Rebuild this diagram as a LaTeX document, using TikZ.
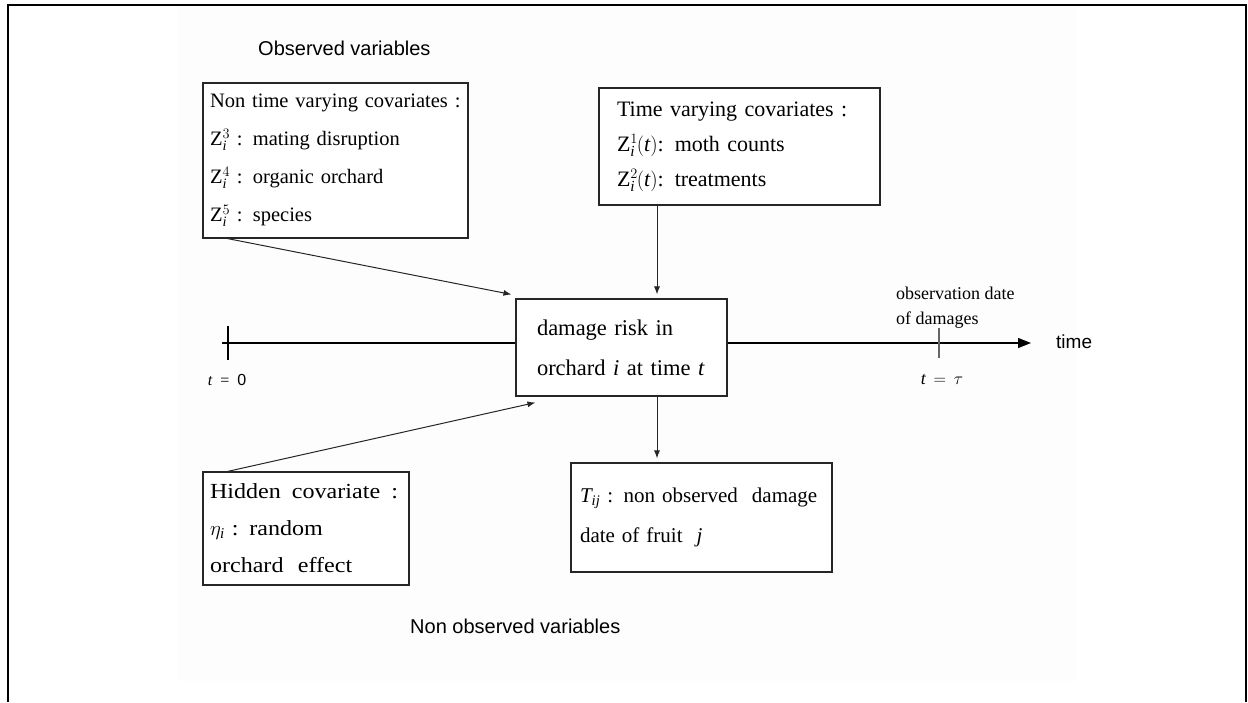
\documentclass[tikz,border=0pt]{standalone}
\usepackage{fontspec}
\setmainfont{Liberation Serif}
\setsansfont{Liberation Sans}
\newfontfamily\wideserif{Liberation Serif}[FakeStretch=1.12]
\usetikzlibrary{arrows.meta}
\newcommand{\zvar}[1]{$\mathrm{Z}^{#1}_{\mathit{i}}$}
\newcommand{\ztvar}[1]{$\mathrm{Z}^{#1}_{\mathit{i}}\mkern-1mu(\mathit{t})$}
\begin{document}
\begin{tikzpicture}[x=1pt,y=-1pt,
  box/.style={draw=black!85,line width=1.1pt,inner ysep=0pt,align=left,fill=white},
  arr/.style={draw=black!85,line width=1pt,-{Latex[length=8pt,width=6pt]}},
  sanslbl/.style={font=\sffamily\fontsize{20}{24}\selectfont,anchor=west,inner sep=0pt},
  serlbl/.style={font=\fontsize{18}{25}\selectfont,align=left,anchor=west,inner sep=0pt},
  smalllbl/.style={font=\fontsize{16}{18}\selectfont,inner sep=0pt}]
\useasboundingbox (0,0) rectangle (1248,702);
\fill[black!0.8] (178,7) rectangle (1077,681);
\draw[line width=2.5pt] (8,702) -- (8,5) -- (1246,5) -- (1246,702);

\node[sanslbl] (obs) at (258,48) {Observed variables};
\node[sanslbl] (nonobs) at (410,626) {Non observed variables};

\node[box,minimum width=265pt,minimum height=155pt,inner xsep=7pt,text width=251pt,
  font=\fontsize{20.5}{38}\selectfont] (nt) at (335.5,160.5)
  {Non time varying covariates :\\ \zvar{3} : mating disruption\\ \zvar{4} : organic orchard\\ \zvar{5} : species};

\node[box,minimum width=281pt,minimum height=117pt,inner xsep=18pt,text width=245pt,
  font=\fontsize{22}{35}\selectfont] (tv) at (739.5,146.5)
  {Time varying covariates :\\ \ztvar{1}: moth counts\\ \ztvar{2}: treatments};

\node[box,minimum width=211pt,minimum height=97pt,inner xsep=21pt,text width=169pt,
  font=\fontsize{22.5}{40}\selectfont] (risk) at (621.5,347.5)
  {damage risk in\\ orchard \textit{i} at time \textit{t}};

\node[box,minimum width=206pt,minimum height=113pt,inner xsep=7pt,text width=192pt,
  font=\wideserif\fontsize{21.5}{37}\selectfont] (hid) at (306,528.5)
  {\hbox to 188pt{Hidden\hfil covariate\hfil :}\\ $\eta_{\mathit{i}}$ : random\\ orchard\ \ effect};

\node[box,minimum width=261pt,minimum height=109pt,inner xsep=9pt,text width=243pt,
  font=\fontsize{21}{40}\selectfont] (tb) at (701.5,517.5)
  {$\mathit{T}_{\mathit{ij}}$ : non observed\ \ damage\\ date\ of\ fruit\ \ \textit{j}};

\node[serlbl] (obsdate) at (896,308) {observation date\\ of damages};
\node[sanslbl,font=\sffamily\fontsize{19}{22}\selectfont] (time) at (1056,342) {time};

\coordinate (t0) at (222,343);
\coordinate (tick0) at (228,343);
\coordinate (tick1) at (939,343);
\coordinate (tend) at (1031,343);
\coordinate (vx) at (657,0);

\draw[line width=2pt] (t0) -- (risk.west |- t0);
\draw[line width=1.2pt,-{Triangle[length=13pt,width=10pt]}] (risk.east |- t0) -- (tend);
\draw[line width=1.5pt] ([yshift=17pt]tick0) -- ([yshift=-17pt]tick0);
\draw[line width=1.5pt,black!60] ([yshift=15pt]tick1) -- ([yshift=-15pt]tick1);

\node[smalllbl] (tz) at (227,380) {$\mathit{t}$\ \ =\ \ {\sffamily 0}};
\node[smalllbl,font=\fontsize{18}{20}\selectfont] (tt) at (942,380) {$\mathit{t}\,=\,\tau$};

\draw[arr] ([xshift=25pt]nt.south west) -- ([xshift=-4pt,yshift=4pt]risk.north west);
\draw[arr] (tv.south -| vx) -- ([yshift=4pt]risk.north -| vx);
\draw[arr] ([xshift=25pt]hid.north west) -- ([xshift=20pt,yshift=-6pt]risk.south west);
\draw[arr] (risk.south -| vx) -- ([yshift=4pt]tb.north -| vx);
\end{tikzpicture}
\end{document}
